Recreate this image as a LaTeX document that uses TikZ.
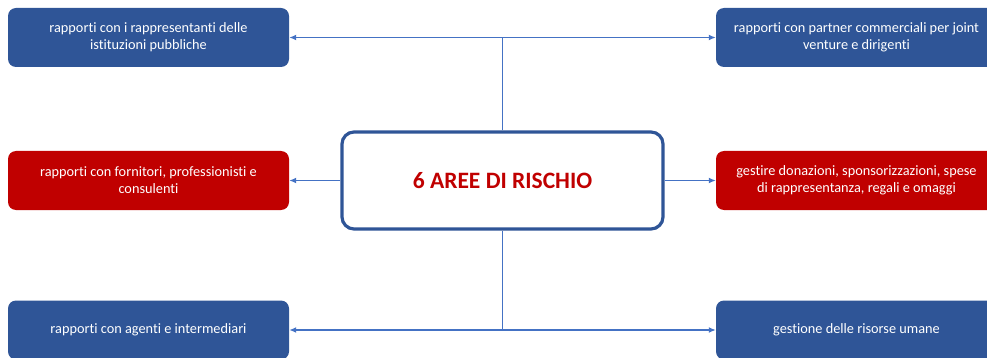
\documentclass[tikz,border=0pt]{standalone}
\usepackage{fontspec}
\setmainfont[Ligatures = NoCommon]{Carlito}
\usetikzlibrary{positioning,arrows.meta}
\definecolor{areablue}{HTML}{2F5597}
\definecolor{areared}{HTML}{C00000}
\definecolor{linkblue}{HTML}{4472C4}
\begin{document}
\begin{tikzpicture}[x = 1pt, y = -1pt,
		area/.style = {rounded corners = 8pt, minimum width = 281pt, minimum height = 59pt, inner sep = 0pt, align = center, text = white, font = \fontsize{14.3}{17}\selectfont},
		bluearea/.style = {area, fill = areablue},
		redarea/.style = {area, fill = areared},
		link/.style = {draw = linkblue, line width = 1.8pt, -{Latex[length = 7pt, width = 6pt]}}]
	\useasboundingbox (0,0) rectangle (987,358);
	\node[draw = areablue, line width = 3.2pt, rounded corners = 12pt, minimum width = 321pt, minimum height = 97pt, text = areared, font = \fontsize{23.5}{28}\selectfont\bfseries] (rischio) at (502.5,180.5) {6 AREE DI RISCHIO}; %centre
	\node[bluearea] (istituzioni) at (148.5,37.5) {rapporti con i rappresentanti delle\\istituzioni pubbliche};
	\node[bluearea] (partner) at (856.5,37.5) {rapporti con partner commerciali per joint\\venture e dirigenti};
	\node[redarea] (fornitori) at (148.5,180.5) {rapporti con fornitori, professionisti e\\consulenti};
	\node[redarea] (donazioni) at (856.5,180.5) {gestire donazioni, sponsorizzazioni, spese\\di rappresentanza, regali e omaggi};
	\node[bluearea] (agenti) at (148.5,330) {rapporti con agenti e intermediari};
	\node[bluearea] (risorse) at (856.5,330) {gestione delle risorse umane};
	\coordinate (alto) at (rischio.north |- istituzioni.east);
	\coordinate (basso) at (rischio.south |- agenti.east);
	\draw[draw = linkblue, line width = 1.8pt] (rischio.north) -- (alto); %top branch
	\draw[link] (alto) -- (istituzioni.east);
	\draw[link] (alto) -- (partner.west);
	\draw[link] (rischio.west) -- (fornitori.east);
	\draw[link] (rischio.east) -- (donazioni.west);
	\draw[draw = linkblue, line width = 1.8pt] (rischio.south) -- (basso); %bottom branch
	\draw[link] (basso) -- (agenti.east);
	\draw[link] (basso) -- (risorse.west);
\end{tikzpicture}
\end{document}
